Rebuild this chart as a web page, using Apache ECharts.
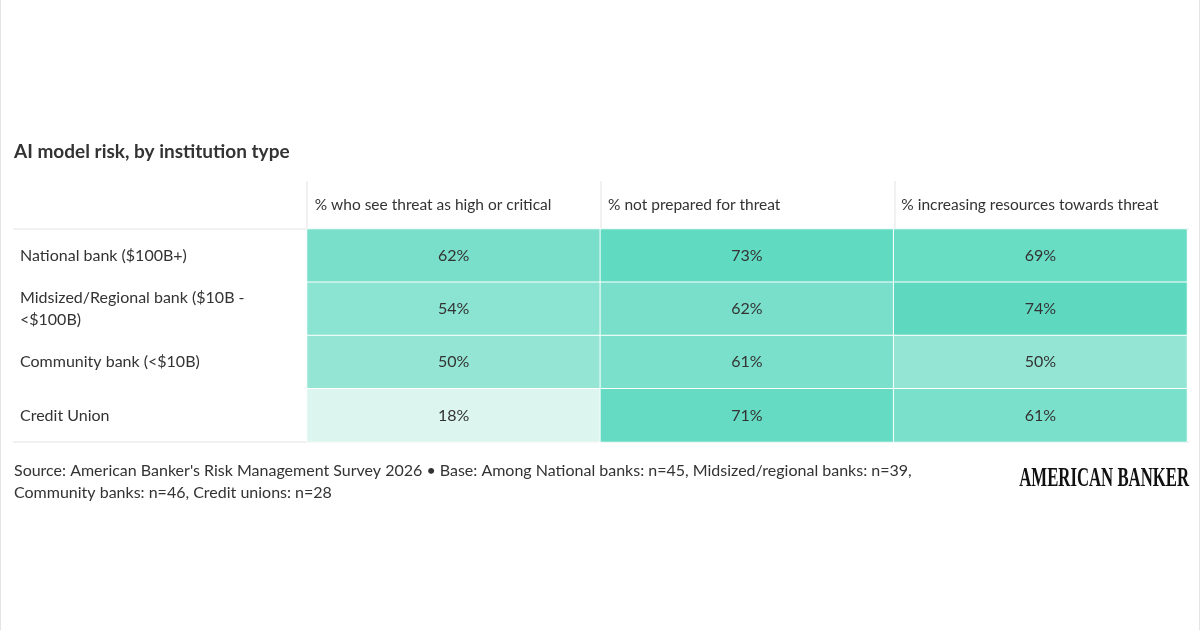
<!DOCTYPE html>
<html>
<head>
<meta charset="utf-8">
<script src="https://cdn.jsdelivr.net/npm/echarts@6/dist/echarts.min.js"></script>
<style>
  html, body { margin: 0; padding: 0; background: #fff; }
  #chart { width: 1200px; height: 630px; box-sizing: border-box; border-left: 1px solid #e4e4e4; border-right: 1px solid #e4e4e4; }
</style>
</head>
<body>
<div id="chart"></div>
<script>
const columns = ['% who see threat as high or critical', '% not prepared for threat', '% increasing resources towards threat']
const rows = ['National bank ($100B+)', 'Midsized/Regional bank ($10B -\n<$100B)', 'Community bank (<$10B)', 'Credit Union']
const highCritical = [62, 54, 50, 18]
const notPrepared = [73, 62, 61, 71]
const increasing = [69, 74, 50, 61]

const cols = [highCritical, notPrepared, increasing]
const cells = []
cols.forEach((vals, c) => vals.forEach((v, r) => cells.push([c, r, v])))

const font = 'Lato, "Noto Sans", sans-serif'
const chart = echarts.init(document.getElementById('chart'))

// grid columns: 306..1188, three equal
const gl = 306, gr = 1188, colW = (gr - gl) / 3
const headerLines = [0, 1, 2].map(i => ({
  type: 'line',
  shape: { x1: gl + i * colW, y1: 181, x2: gl + i * colW, y2: 229 },
  style: { stroke: '#e2e2e2', lineWidth: 1 }
}))

chart.setOption({
  animation: false,
  textStyle: { fontFamily: font },
  grid: { left: gl, right: 1200 - gr, top: 229, bottom: 630 - 442 },
  xAxis: {
    type: 'category', data: columns, position: 'top',
    axisLine: { show: false }, axisTick: { show: false }, splitLine: { show: false },
    axisLabel: {
      interval: 0, margin: 16, color: '#333', fontSize: 15.5, fontFamily: font,
      align: 'center',
      formatter: v => '{a|' + v + '}',
      rich: { a: { width: colW - 16, align: 'left', fontSize: 15.5, fontFamily: font, color: '#333' } }
    }
  },
  yAxis: {
    type: 'category', data: rows, inverse: true,
    axisLine: { show: false }, axisTick: { show: false },
    splitLine: { show: true, lineStyle: { color: '#e2e2e2', width: 1 } },
    axisLabel: {
      align: 'left', margin: gl - 19, color: '#333', fontSize: 16, fontFamily: font, lineHeight: 22
    }
  },
  visualMap: {
    show: false, min: 18, max: 74, dimension: 2,
    inRange: { color: ['#dcf5ef', '#5ed9c0'] }
  },
  series: [{
    type: 'heatmap',
    data: cells,
    itemStyle: { borderColor: '#ffffff', borderWidth: 1 },
    label: { show: true, formatter: p => p.value[2] + '%', color: '#333', fontSize: 16, fontFamily: font }
  }],
  graphic: [
    { type: 'text', left: 13, top: 142, style: { text: 'AI model risk, by institution type', font: 'bold 19px ' + font, fill: '#333' } },
    { type: 'line', shape: { x1: 12, y1: 229, x2: 1188, y2: 229 }, style: { stroke: '#e2e2e2', lineWidth: 1 } },
    { type: 'line', shape: { x1: 12, y1: 442, x2: 1188, y2: 442 }, style: { stroke: '#e2e2e2', lineWidth: 1 } },
    ...headerLines,
    { type: 'text', left: 13, top: 460, style: {
      text: "Source: American Banker's Risk Management Survey 2026 \u2022 Base: Among National banks: n=45, Midsized/regional banks: n=39,\nCommunity banks: n=46, Credit unions: n=28",
      font: '16px ' + font, fill: '#333', lineHeight: 22 } },
    { type: 'text', x: 1188, y: 466, scaleX: 0.62, style: { text: 'AMERICAN BANKER', align: 'right', font: 'bold 27px "Liberation Serif", serif', fill: '#111' } }
  ]
})
</script>
</body>
</html>
